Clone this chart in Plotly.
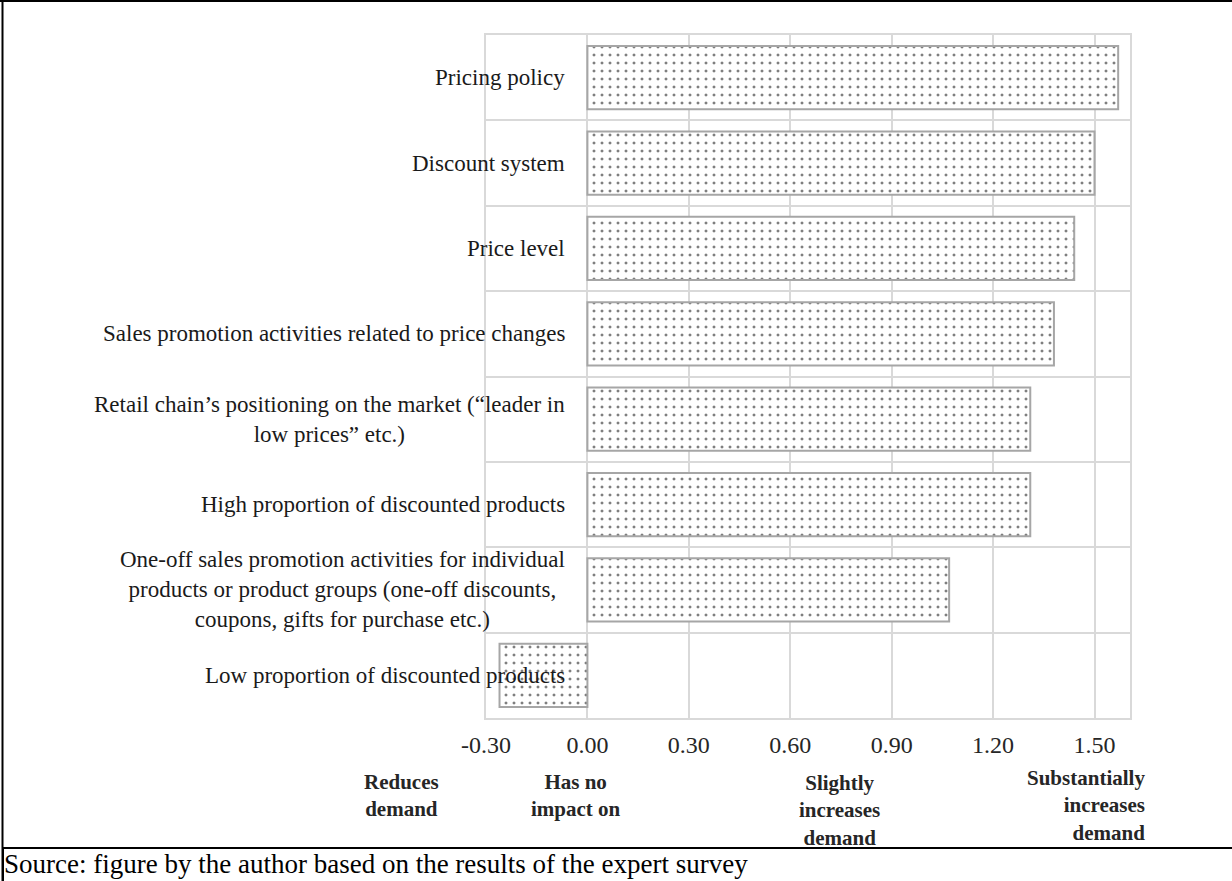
import plotly.graph_objects as go

# ---- data (top to bottom as in the chart) ----
categories = [
    "Pricing policy",
    "Discount system",
    "Price level",
    "Sales promotion activities related to price changes",
    "Retail chain\u2019s positioning on the market (\u201cleader in<br>low prices\u201d etc.)",
    "High proportion of discounted products",
    "One-off sales promotion activities for individual<br>products or product groups (one-off discounts,<br>coupons, gifts for purchase etc.)",
    "Low proportion of discounted products",
]
values = [1.57, 1.50, 1.44, 1.38, 1.31, 1.31, 1.07, -0.26]

tick_values = [-0.30, 0.00, 0.30, 0.60, 0.90, 1.20, 1.50]
tick_text = ["-0.30", "0.00", "0.30", "0.60", "0.90", "1.20", "1.50"]

scale_labels = ["Reduces<br>demand", "Has no<br>impact on", "Slightly<br>increases<br>demand",
                "Substantially<br>increases<br>demand"]
scale_label_x = [-0.55, -0.035, 0.745, 1.655]
scale_label_top_px = [768, 768, 769, 764]
scale_label_anchor = ["center", "center", "center", "right"]
scale_label_align = ["center", "center", "center", "right"]

caption = "Source: figure by the author based on the results of the expert survey"

# ---- layout geometry ----
W, H = 1232, 881
ML, MR, MT, MB = 486, 102, 35, 163
PW, PH = W - ML - MR, H - MT - MB
XMIN, XMAX = -0.3, 1.605


def px_x(px):
    return (px - ML) / PW


def px_y(py):
    return (H - MB - py) / PH


def data_x_to_paper(v):
    return (v - XMIN) / (XMAX - XMIN)


SERIF = "Liberation Serif, Times New Roman, serif"
GRID = "#d9d9d9"

fig = go.Figure()
fig.add_trace(go.Bar(
    x=values,
    y=categories,
    orientation="h",
    width=0.74,
    marker=dict(
        color="white",
        line=dict(color="#a6a6a6", width=2),
        pattern=dict(shape=".", fgcolor="black", bgcolor="white", size=8, solidity=0.11),
    ),
    hoverinfo="x+y",
))

annotations = []
# category labels, centred text block whose right edge sits just left of zero
for c in categories:
    annotations.append(dict(
        x=0, y=c, xref="x", yref="y", text=c, showarrow=False,
        xanchor="right", yanchor="middle", align="center", xshift=-20,
        font=dict(family=SERIF, size=23, color="#1a1a1a"),
    ))

# bold scale labels under the axis
for t, xv, ty, xa, al in zip(scale_labels, scale_label_x, scale_label_top_px,
                             scale_label_anchor, scale_label_align):
    annotations.append(dict(
        x=data_x_to_paper(xv), y=px_y(ty), xref="paper", yref="paper", text="<b>" + t + "</b>",
        showarrow=False, xanchor=xa, yanchor="top", align=al,
        font=dict(family=SERIF, size=21, color="#262626"),
    ))

# caption cell: its top and left borders form the frame lines; white fill clips text above
annotations.append(dict(
    x=px_x(1.5), y=px_y(847), xref="paper", yref="paper", text=caption, showarrow=False,
    xanchor="left", yanchor="top", align="left", valign="top", width=1250, height=46,
    bgcolor="white", bordercolor="black", borderwidth=2, borderpad=0,
    font=dict(family=SERIF, size=27, color="black"),
))

shapes = [
    dict(type="line", xref="paper", yref="paper", x0=px_x(0), x1=px_x(W), y0=px_y(1), y1=px_y(1),
         line=dict(color="black", width=2)),
    dict(type="line", xref="paper", yref="paper", x0=px_x(2.5), x1=px_x(2.5), y0=px_y(0), y1=px_y(H),
         line=dict(color="black", width=2)),
]

fig.update_layout(
    width=W, height=H,
    margin=dict(l=ML, r=MR, t=MT, b=MB, autoexpand=False),
    paper_bgcolor="white", plot_bgcolor="white",
    showlegend=False,
    annotations=annotations,
    shapes=shapes,
    xaxis=dict(
        range=[XMIN, XMAX], tickmode="array", tickvals=tick_values, ticktext=tick_text,
        showgrid=True, gridcolor=GRID, gridwidth=2, zeroline=False,
        showline=True, linecolor=GRID, linewidth=2, mirror=True,
        ticks="", ticklabelstandoff=4,
        tickfont=dict(family=SERIF, size=24, color="#262626"),
    ),
    yaxis=dict(
        type="category", categoryorder="array", categoryarray=categories,
        autorange="reversed", tickson="boundaries",
        showgrid=True, gridcolor=GRID, gridwidth=2, zeroline=False,
        showline=True, linecolor=GRID, linewidth=2, mirror=True,
        showticklabels=False, ticks="",
    ),
)

fig.write_html("out.html", config={"displayModeBar": False},
               post_script="document.body.style.margin='0';document.body.style.overflow='hidden';")
